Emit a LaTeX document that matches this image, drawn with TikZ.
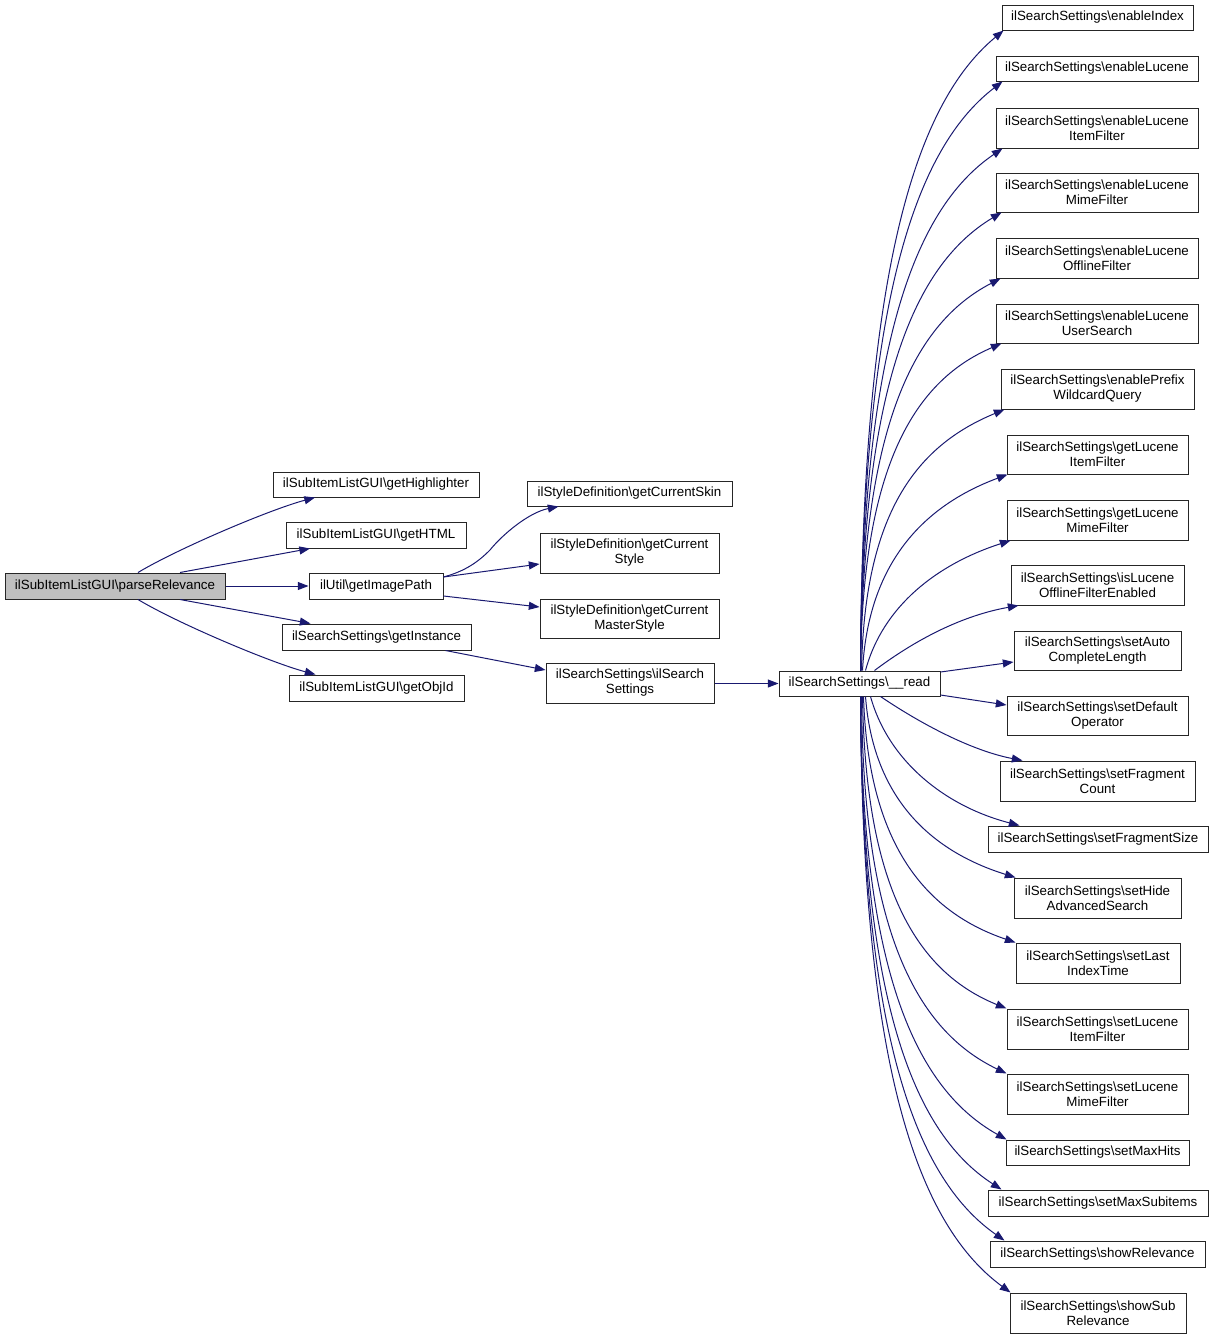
\documentclass[tikz,border=0pt]{standalone}
\usepackage{fontspec}
\setmainfont{Liberation Sans}
\usetikzlibrary{arrows.meta,calc}
\definecolor{edgeblue}{HTML}{191970}
\definecolor{rootgray}{HTML}{BFBFBF}
\tikzset{
  box/.style={draw=black!85, line width=0.75pt, fill=white, inner sep=0pt, align=center,
    font=\fontsize{10}{11.25}\selectfont},
  rootbox/.style={box, fill=rootgray},
  edge/.style={draw=edgeblue, line width=0.75pt, -{Triangle[length=8pt,width=6pt]}}
}
\newcommand\bx[7][box]{\node[#1, minimum width={(#5-#3)*0.75pt}, minimum height={(#6-#4)*0.75pt}] (#2) at ({(#3+#5)/2},{(#4+#6)/2}) {#7};}
% \fan{target}{anchor}{endshift}{startanchor}{startshift}{c1x}{c1y}{c2x}{c2y}
\newcommand\fan[9]{%
  \path (#4) ++(#5,0) coordinate (fs);
  \path (#1.#2) ++(#3,0) coordinate (fe);
  \draw[edge] let \p1=(fs), \p2=(fe) in (fs) .. controls ({\x1+#6*(\x2-\x1)},{\y1+#7*(\y2-\y1)}) and ({\x1+#8*(\x2-\x1)},{\y1+#9*(\y2-\y1)}) .. (fe);
}
\begin{document}
\begin{tikzpicture}[x=0.75pt,y=-0.75pt]
\useasboundingbox (0,0) rectangle (1213,1339);
% left part
\bx[rootbox]{root}{5}{573}{225}{599}{ilSubItemListGUI\textbackslash parseRelevance}
\bx{hl}{273}{472}{479}{497}{ilSubItemListGUI\textbackslash getHighlighter}
\bx{html}{286}{522}{466}{548}{ilSubItemListGUI\textbackslash getHTML}
\bx{img}{309}{573}{443}{599}{ilUtil\textbackslash getImagePath}
\bx{inst}{282}{624}{471}{650}{ilSearchSettings\textbackslash getInstance}
\bx{objid}{289}{675}{464}{701}{ilSubItemListGUI\textbackslash getObjId}
\bx{skin}{527}{481}{732}{506}{ilStyleDefinition\textbackslash getCurrentSkin}
\bx{style}{540}{533}{719}{573}{ilStyleDefinition\textbackslash getCurrent\\Style}
\bx{master}{540}{599}{719}{638}{ilStyleDefinition\textbackslash getCurrent\\MasterStyle}
\bx{ctor}{546}{663}{714}{703}{ilSearchSettings\textbackslash ilSearch\\Settings}
\bx{read}{779}{671}{940}{696}{ilSearchSettings\textbackslash \_\_read}
% right column
\bx{t1}{1002}{5}{1193}{30}{ilSearchSettings\textbackslash enableIndex}
\bx{t2}{996}{56}{1198}{81}{ilSearchSettings\textbackslash enableLucene}
\bx{t3}{996}{108}{1198}{148}{ilSearchSettings\textbackslash enableLucene\\ItemFilter}
\bx{t4}{996}{173}{1198}{212}{ilSearchSettings\textbackslash enableLucene\\MimeFilter}
\bx{t5}{996}{238}{1198}{278}{ilSearchSettings\textbackslash enableLucene\\OfflineFilter}
\bx{t6}{996}{304}{1198}{343}{ilSearchSettings\textbackslash enableLucene\\UserSearch}
\bx{t7}{1001}{369}{1194}{409}{ilSearchSettings\textbackslash enablePrefix\\WildcardQuery}
\bx{t8}{1007}{435}{1188}{474}{ilSearchSettings\textbackslash getLucene\\ItemFilter}
\bx{t9}{1007}{500}{1188}{540}{ilSearchSettings\textbackslash getLucene\\MimeFilter}
\bx{t10}{1011}{565}{1184}{605}{ilSearchSettings\textbackslash isLucene\\OfflineFilterEnabled}
\bx{t11}{1014}{631}{1181}{670}{ilSearchSettings\textbackslash setAuto\\CompleteLength}
\bx{t12}{1007}{696}{1188}{735}{ilSearchSettings\textbackslash setDefault\\Operator}
\bx{t13}{1000}{761}{1195}{801}{ilSearchSettings\textbackslash setFragment\\Count}
\bx{t14}{988}{826}{1208}{852}{ilSearchSettings\textbackslash setFragmentSize}
\bx{t15}{1014}{878}{1181}{918}{ilSearchSettings\textbackslash setHide\\AdvancedSearch}
\bx{t16}{1016}{943}{1180}{983}{ilSearchSettings\textbackslash setLast\\IndexTime}
\bx{t17}{1007}{1009}{1188}{1049}{ilSearchSettings\textbackslash setLucene\\ItemFilter}
\bx{t18}{1007}{1074}{1188}{1114}{ilSearchSettings\textbackslash setLucene\\MimeFilter}
\bx{t19}{1006}{1140}{1189}{1165}{ilSearchSettings\textbackslash setMaxHits}
\bx{t20}{988}{1190}{1208}{1216}{ilSearchSettings\textbackslash setMaxSubitems}
\bx{t21}{990}{1241}{1205}{1267}{ilSearchSettings\textbackslash showRelevance}
\bx{t22}{1010}{1293}{1186}{1333}{ilSearchSettings\textbackslash showSub\\Relevance}

% left edges
\draw[edge] ($(root.north)+(23,0)$) .. controls +(40,-24) and +(-45,12) .. ($(hl.south)+(-61,0)$);
\draw[edge] ($(root.north)+(65,0)$) -- ($(html.south)+(-66,0)$);
\draw[edge] (root) -- (img);
\draw[edge] ($(root.south)+(65,0)$) -- ($(inst.north)+(-66,0)$);
\draw[edge] ($(root.south)+(23,0)$) .. controls +(40,24) and +(-45,-12) .. ($(objid.north)+(-61,0)$);
\draw[edge] ($(img.east)+(0,-9)$) .. controls +(22,-6) and +(-12,12) .. (490,550)
   .. controls +(12,-15) and +(-30,6) .. ($(skin.south)+(-71,0)$);
\draw[edge] ($(img.east)+(0,-9)$) -- ($(style.west)+(0,11)$);
\draw[edge] ($(img.east)+(0,10)$) -- ($(master.west)+(0,-11.5)$);
\draw[edge] ($(inst.south east)+(-26,0)$) -- ($(ctor.west)+(0,-13)$);
\draw[edge] (ctor.east |- read.west) -- (read.west);
\draw[edge] ($(read.east)+(0,-11.5)$) -- ($(t11.west)+(0,11.5)$);
\draw[edge] ($(read.east)+(0,11.5)$) -- ($(t12.west)+(0,-10.5)$);

% fan upward
\fan{t1}{south west}{2}{read.north west}{82}{0.01}{0.6}{0.35}{0.88}
\fan{t2}{south west}{7}{read.north west}{82}{0.01}{0.6}{0.35}{0.88}
\fan{t3}{south west}{7}{read.north west}{82}{0.01}{0.6}{0.35}{0.88}
\fan{t4}{south west}{6}{read.north west}{82}{0.01}{0.6}{0.35}{0.88}
\fan{t5}{south west}{5}{read.north west}{82}{0.01}{0.6}{0.35}{0.88}
\fan{t6}{south west}{6}{read.north west}{82}{0.01}{0.6}{0.35}{0.88}
\fan{t7}{south west}{4}{read.north west}{83}{0.02}{0.6}{0.38}{0.86}
\fan{t8}{south west}{1}{read.north west}{84}{0.04}{0.55}{0.42}{0.84}
\fan{t9}{south west}{4}{read.north west}{87}{0.12}{0.5}{0.5}{0.82}
\fan{t10}{south west}{8}{read.north west}{96}{0.3}{0.5}{0.62}{0.85}
% fan downward
\fan{t13}{north west}{23}{read.south west}{102}{0.3}{0.45}{0.65}{0.85}
\fan{t14}{north west}{32}{read.south west}{92}{0.12}{0.5}{0.5}{0.85}
\fan{t15}{north west}{2}{read.south west}{87}{0.05}{0.55}{0.42}{0.85}
\fan{t16}{north west}{0}{read.south west}{85}{0.03}{0.58}{0.38}{0.87}
\fan{t17}{north west}{0}{read.south west}{84}{0.02}{0.6}{0.36}{0.88}
\fan{t18}{north west}{0}{read.south west}{83}{0.01}{0.6}{0.35}{0.88}
\fan{t19}{north west}{1}{read.south west}{82}{0.01}{0.6}{0.35}{0.88}
\fan{t20}{north west}{14}{read.south west}{82}{0.01}{0.6}{0.35}{0.88}
\fan{t21}{north west}{15}{read.south west}{82}{0.01}{0.6}{0.35}{0.88}
\fan{t22}{north west}{1}{read.south west}{82}{0.01}{0.6}{0.35}{0.88}
\end{tikzpicture}
\end{document}
